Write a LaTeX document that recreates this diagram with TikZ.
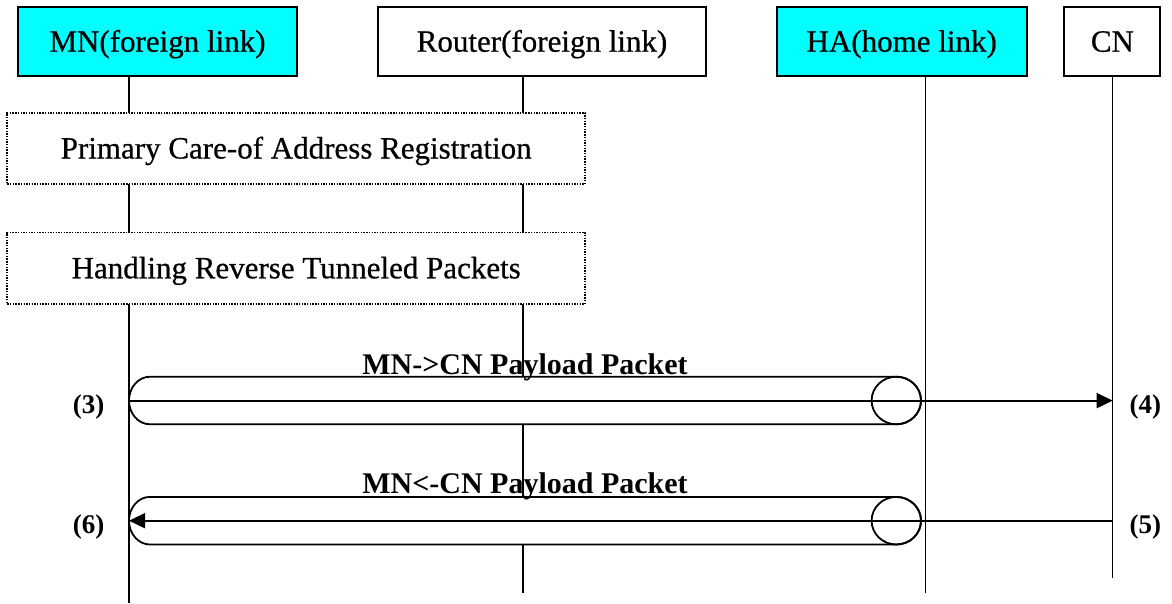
\documentclass[tikz,border=0pt]{standalone}
\usepackage{fontspec}
\setmainfont{Liberation Serif}
\newfontfamily\medserif[FakeBold=0.6]{Liberation Serif}
\usetikzlibrary{arrows.meta}
\definecolor{hdrcyan}{RGB}{0,255,255}
\tikzset{
  hdr/.style={draw=black, line width=2pt, inner sep=0pt, font=\medserif\fontsize{31}{31}\selectfont, text height=20pt, text depth=0pt},
  phase/.style={draw=black, fill=white, line width=1.8pt, dash pattern=on 1.4pt off 1.3pt, inner sep=0pt, font=\medserif\fontsize{31}{31}\selectfont, text height=20pt, text depth=0pt, minimum width=577.7pt, minimum height=71.5pt},
  life/.style={draw=black, line width=1.4pt},
  tunnel/.style={draw=black, fill=white, line width=1.8pt},
  msg/.style={draw=black, line width=1.9pt, -{Triangle[length=16pt,width=15pt]}},
  msglbl/.style={inner sep=0pt, font=\bfseries\fontsize{30}{30}\selectfont, text height=19.5pt, text depth=0pt},
  numlbl/.style={inner sep=0pt, font=\bfseries\fontsize{27}{27}\selectfont, text height=18pt, text depth=0pt}
}
\begin{document}
\begin{tikzpicture}[x=1pt, y=-1pt]
\useasboundingbox (0,0) rectangle (1172,603);
\fill[white] (0,0) rectangle (1172,603);

% lifeline coordinates
\coordinate (mnTop) at (129,76);
\coordinate (mnBot) at (129,603);
\coordinate (rtTop) at (522.8,76);
\coordinate (rtBot) at (522.8,593);
\coordinate (haTop) at (925.7,76);
\coordinate (haBot) at (925.7,593);
\coordinate (cnTop) at (1112.7,76);
\coordinate (cnBot) at (1112.7,578);

\draw[life] (mnTop) -- (mnBot);
\draw[life] (rtTop) -- (rtBot);
\draw[life] (haTop) -- (haBot);
\draw[life] (cnTop) -- (cnBot);

% headers
\node[hdr, fill=hdrcyan, minimum width=279.7pt, minimum height=68.7pt] (mn) at (157.5,41.7) {MN(foreign link)};
\node[hdr, fill=white, minimum width=328pt, minimum height=68.7pt] (rt) at (542,41.7) {Router(foreign link)};
\node[hdr, fill=hdrcyan, minimum width=250.2pt, minimum height=68.7pt] (ha) at (901.7,41.7) {HA(home link)};
\node[hdr, fill=white, minimum width=96pt, minimum height=68.7pt] (cn) at (1112.4,41.7) {CN};

% phase boxes
\node[phase] (reg) at (296.2,148.5) {Primary Care-of Address Registration};
\node[phase] (rev) at (296.2,268.3) {Handling Reverse Tunneled Packets};

% tunnel 1
\path[tunnel] (896.3,376.7) -- (150,376.7) arc[start angle=270, end angle=90, x radius=21, y radius=23.8] -- (896.3,424.3) arc[start angle=90, end angle=-90, x radius=24.7, y radius=23.8] -- cycle;
\draw[line width=1.8pt] (896.3,400.5) ellipse[x radius=24.7, y radius=23.8];
% tunnel 2
\path[tunnel] (896.3,496.9) -- (150,496.9) arc[start angle=270, end angle=90, x radius=21, y radius=23.8] -- (896.3,544.5) arc[start angle=90, end angle=-90, x radius=24.7, y radius=23.8] -- cycle;
\draw[line width=1.8pt] (896.3,520.7) ellipse[x radius=24.7, y radius=23.8];

% messages
\coordinate (m1s) at (129,400.6);
\coordinate (m1e) at (1112.7,400.6);
\coordinate (m2s) at (1112.7,520.7);
\coordinate (m2e) at (129,520.7);
\draw[msg] (m1s) -- (m1e);
\draw[msg] (m2s) -- (m2e);

% labels
\node[msglbl] (l1) at (525,364.5) {MN->CN Payload Packet};
\node[msglbl] (l2) at (525,483.7) {MN<-CN Payload Packet};
\node[numlbl] (n3) at (88.7,404.2) {(3)};
\node[numlbl] (n4) at (1145.3,404.5) {(4)};
\node[numlbl] (n5) at (1145.3,524.5) {(5)};
\node[numlbl] (n6) at (88.7,524.2) {(6)};
\end{tikzpicture}
\end{document}
